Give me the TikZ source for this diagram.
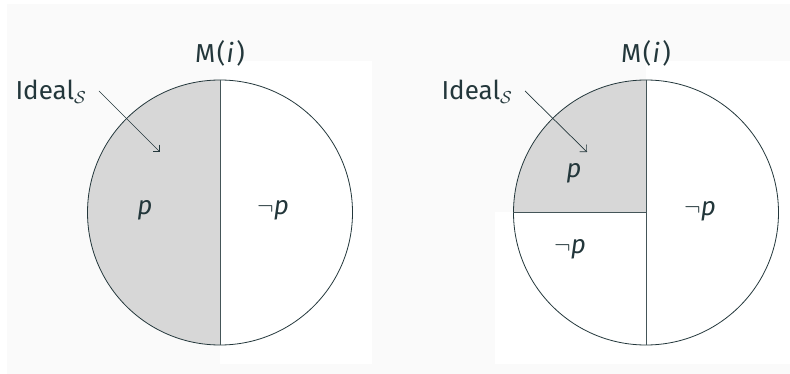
\documentclass[tikz,border=0pt]{standalone}
\usepackage{fontspec}
\usetikzlibrary{arrows.meta}
\setmainfont{Fira Sans}
\definecolor{mtext}{HTML}{23373B}
\definecolor{mbg}{HTML}{FAFAFA}
\definecolor{ideal}{HTML}{D7D7D7}
\newcommand{\worldsof}{M\kern1.5pt(\kern1.5pt\textit{i}\kern2.5pt)}
\begin{document}
\begin{tikzpicture}[x=1pt,y=-1pt]
        \tikzstyle{txt}=[text=mtext, font=\fontsize{26}{30}\selectfont, inner sep=0pt]
        \tikzstyle{disk}=[circle, draw=mtext, line width=0.8pt, minimum size=265pt, inner sep=0pt]
        \tikzstyle{divide}=[draw=mtext!85, line width=0.8pt]
        \tikzstyle{pointer}=[-{Straight Barb[length=5pt,width=10pt]}, draw=mtext, line width=0.7pt]

        \useasboundingbox (0,0) rectangle (790,374);
        \fill[mbg] (7,4) rectangle (790,374);
        \fill[white] (220,61) rectangle (372,364);
        \fill[white] (646,61) rectangle (790,364);
        \fill[white] (495,212.5) rectangle (646,364);

        % left: half of the worlds
        \begin{scope}
            \clip (80,70) rectangle (220,350);
            \fill[ideal] (220,212.5) circle (132.5);
        \end{scope}
        \node[disk] (diskL) at (220,212.5) {};
        \draw[divide] (diskL.north) -- (diskL.south);

        \node[txt] (titleL) at (220,53) {\worldsof};
        \node[txt] (idealL) at (51,92) {Ideal$_{\mathcal{S}}$};
        \node[txt] (pL) at (145,210) {\textit{p}};
        \node[txt] (npL) at (273,210) {$\neg$\textit{p}};

        \coordinate (fromL) at (99,91);
        \coordinate (tipL) at (160,152);
        \draw[pointer] (fromL) -- (tipL);

        % right: a quarter of the worlds
        \begin{scope}
            \clip (505,70) rectangle (646,212.5);
            \fill[ideal] (646,212.5) circle (132.5);
        \end{scope}
        \node[disk] (diskR) at (646,212.5) {};
        \draw[divide] (diskR.north) -- (diskR.south);
        \draw[divide] (diskR.west) -- (diskR.center);

        \node[txt] (titleR) at (646,53) {\worldsof};
        \node[txt] (idealR) at (477,92) {Ideal$_{\mathcal{S}}$};
        \node[txt] (pR) at (574,173) {\textit{p}};
        \node[txt] (npR) at (700,211) {$\neg$\textit{p}};
        \node[txt] (npQ) at (570,249) {$\neg$\textit{p}};

        \coordinate (fromR) at (525,91);
        \coordinate (tipR) at (587,152);
        \draw[pointer] (fromR) -- (tipR);
\end{tikzpicture}
\end{document}
